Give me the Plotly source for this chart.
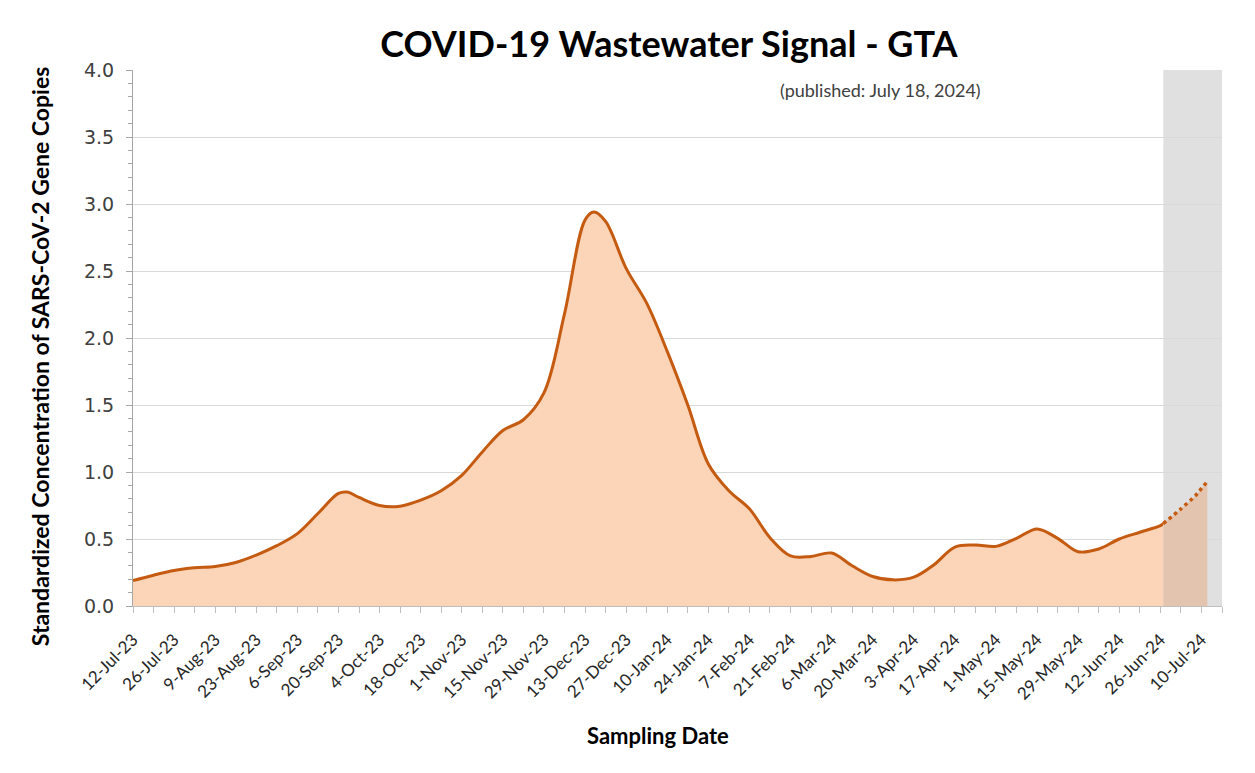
import plotly.graph_objects as go

# ---- data ----
solid_dates = ["2023-07-12","2023-07-19","2023-07-26","2023-08-02","2023-08-09","2023-08-16",
               "2023-08-23","2023-08-30","2023-09-06","2023-09-13","2023-09-20","2023-09-23",
               "2023-09-27","2023-10-04","2023-10-11","2023-10-18","2023-10-25","2023-11-01",
               "2023-11-08","2023-11-15","2023-11-22","2023-11-29","2023-12-06","2023-12-13",
               "2023-12-16","2023-12-20","2023-12-27","2024-01-03","2024-01-10","2024-01-17",
               "2024-01-24","2024-01-31","2024-02-07","2024-02-14","2024-02-21","2024-02-28",
               "2024-03-06","2024-03-13","2024-03-20","2024-03-27","2024-04-03","2024-04-10",
               "2024-04-17","2024-04-24","2024-05-01","2024-05-08","2024-05-15","2024-05-22",
               "2024-05-29","2024-06-05","2024-06-12","2024-06-19","2024-06-26","2024-06-27"]
solid_values = [0.19,0.23,0.265,0.285,0.295,0.325,
                0.38,0.45,0.54,0.69,0.84,0.85,
                0.81,0.75,0.745,0.79,0.86,0.975,
                1.15,1.31,1.39,1.59,2.18,2.88,
                2.94,2.87,2.52,2.26,1.90,1.50,
                1.06,0.86,0.725,0.51,0.374,0.37,
                0.395,0.30,0.22,0.195,0.215,0.31,
                0.44,0.455,0.445,0.505,0.575,0.505,
                0.405,0.425,0.50,0.55,0.60,0.615]

dotted_dates = ["2024-06-27","2024-07-03","2024-07-08","2024-07-12"]
dotted_values = [0.615,0.725,0.825,0.93]

shade_start = "2024-06-27"
axis_start = "2023-07-12"
axis_end = "2024-07-17"

LINE = "#C55A11"
FILL = "#FCD5B9"
FILL_SHADED = "#E3C4AE"
GRAY = "#E0E0E0"

fig = go.Figure()

fig.add_trace(go.Scatter(
    x=solid_dates, y=solid_values, mode="lines",
    line=dict(color=LINE, width=3, shape="spline", smoothing=1.0),
    fill="tozeroy", fillcolor=FILL, hoverinfo="x+y", showlegend=False))

fig.add_trace(go.Scatter(
    x=dotted_dates, y=dotted_values, mode="lines",
    line=dict(color=LINE, width=3.5, shape="spline", smoothing=0.6, dash="dot"),
    fill="tozeroy", fillcolor=FILL_SHADED, hoverinfo="x+y", showlegend=False))

fig.add_shape(type="rect", xref="x", yref="paper", x0=shade_start, x1=axis_end,
              y0=0, y1=1, fillcolor=GRAY, line=dict(width=0), layer="below")

fig.update_layout(
    width=1255, height=773,
    margin=dict(l=133, r=33, t=70, b=167),
    paper_bgcolor="white", plot_bgcolor="white",
    title=dict(text="<b>COVID-19 Wastewater Signal - GTA</b>",
               x=0.533, xanchor="center", y=0.942, yanchor="middle",
               font=dict(family="Lato", size=36, color="black")),
    annotations=[
        dict(text="(published: July 18, 2024)", xref="paper", yref="paper",
             x=0.686, y=0.963, xanchor="center", yanchor="middle", showarrow=False,
             font=dict(family="Lato", size=18, color="#404040")),
        dict(text="<b>Standardized Concentration of SARS-CoV-2 Gene Copies</b>",
             xref="paper", yref="paper", x=-0.0854, y=0.466, textangle=-90,
             xanchor="center", yanchor="middle", showarrow=False,
             font=dict(family="Lato", size=23, color="black")),
        dict(text="<b>Sampling Date</b>", xref="paper", yref="paper",
             x=0.482, y=-0.242, xanchor="center", yanchor="middle", showarrow=False,
             font=dict(family="Lato", size=22, color="black")),
    ],
)

fig.update_xaxes(
    type="date", range=[axis_start, axis_end],
    tick0=axis_start, dtick=14 * 86400000, tickformat="%-d-%b-%y",
    tickangle=-45, ticks="outside", ticklen=6, tickcolor="#BFBFBF",
    ticklabelstandoff=10,
    tickfont=dict(family="Lato", size=17, color="#262626"),
    minor=dict(dtick=7 * 86400000, tick0=axis_start, ticks="outside", ticklen=6,
               tickcolor="#BFBFBF", showgrid=False),
    showgrid=False, showline=True, linecolor="#BFBFBF", linewidth=1,
    zeroline=False)

fig.update_yaxes(
    range=[0, 4.0], dtick=0.5, tickformat=".1f",
    ticks="outside", ticklen=6, tickcolor="#A6A6A6",
    ticklabelstandoff=8,
    tickfont=dict(family="DejaVu Sans", size=19, color="#404040"),
    minor=dict(dtick=0.1, ticks="outside", ticklen=4, tickcolor="#A6A6A6", showgrid=False),
    showgrid=True, gridcolor="#D9D9D9", gridwidth=1,
    showline=True, linecolor="#A6A6A6", linewidth=1,
    zeroline=False)

fig.write_html("out.html")
